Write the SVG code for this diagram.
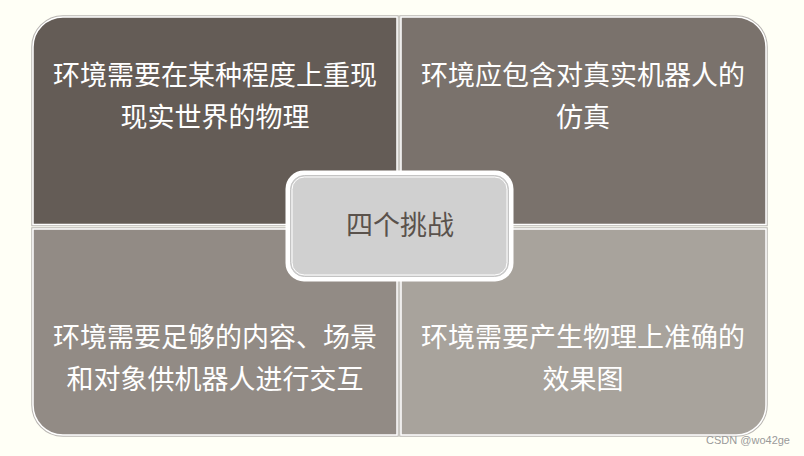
<svg xmlns="http://www.w3.org/2000/svg" width="804" height="456" viewBox="0 0 804 456">
<style>
.edge{fill:none;stroke:#b9b6b2;stroke-width:3.5}
.q{stroke:#ffffff;stroke-width:1.5}
.t{font-family:"Noto Sans CJK SC","Noto Sans",sans-serif;font-size:27px;fill:#ffffff;text-anchor:middle}
.c{font-family:"Noto Sans CJK SC","Noto Sans",sans-serif;font-size:27px;fill:#5a524c;text-anchor:middle}
</style>
<rect width="804" height="456" fill="#fffff6"/>
<g id="q1">
<path class="edge" d="M33,47 A30,30 0 0 1 63,17 H397 V224.5 H33 Z"/>
<path class="q" fill="#645c56" d="M33,47 A30,30 0 0 1 63,17 H397 V224.5 H33 Z"/>
<text class="t" x="215" y="85">环境需要在某种程度上重现</text>
<text class="t" x="215" y="127">现实世界的物理</text>
</g>
<g id="q2">
<path class="edge" d="M401,17 H736 A30,30 0 0 1 766,47 V224.5 H401 Z"/>
<path class="q" fill="#7a726c" d="M401,17 H736 A30,30 0 0 1 766,47 V224.5 H401 Z"/>
<text class="t" x="583" y="85">环境应包含对真实机器人的</text>
<text class="t" x="583" y="127">仿真</text>
</g>
<g id="q3">
<path class="edge" d="M33,229 H397 V435 H63 A30,30 0 0 1 33,405 Z"/>
<path class="q" fill="#928b85" d="M33,229 H397 V435 H63 A30,30 0 0 1 33,405 Z"/>
<text class="t" x="215" y="347">环境需要足够的内容、场景</text>
<text class="t" x="215" y="389">和对象供机器人进行交互</text>
</g>
<g id="q4">
<path class="edge" d="M401,229 H766 V405 A30,30 0 0 1 736,435 H401 Z"/>
<path class="q" fill="#a8a39c" d="M401,229 H766 V405 A30,30 0 0 1 736,435 H401 Z"/>
<text class="t" x="583" y="347">环境需要产生物理上准确的</text>
<text class="t" x="583" y="389">效果图</text>
</g>
<g id="center">
<rect x="287" y="172" width="225" height="108" rx="17" fill="#ffffff" stroke="#ffffff" stroke-width="3"/>
<rect x="290.5" y="175.5" width="218" height="101" rx="14" fill="#d0d0d0" stroke="#c4c4c4" stroke-width="1"/>
<rect x="292" y="177" width="215" height="98" rx="12.5" fill="none" stroke="#ffffff" stroke-width="1"/>
<text class="c" x="400" y="235">四个挑战</text>
</g>
<g id="connectors"></g>
<text x="790" y="444" font-family="Liberation Sans, Arial, sans-serif" font-size="11" fill="#9a9a9a" text-anchor="end">CSDN @wo42ge</text>
</svg>
